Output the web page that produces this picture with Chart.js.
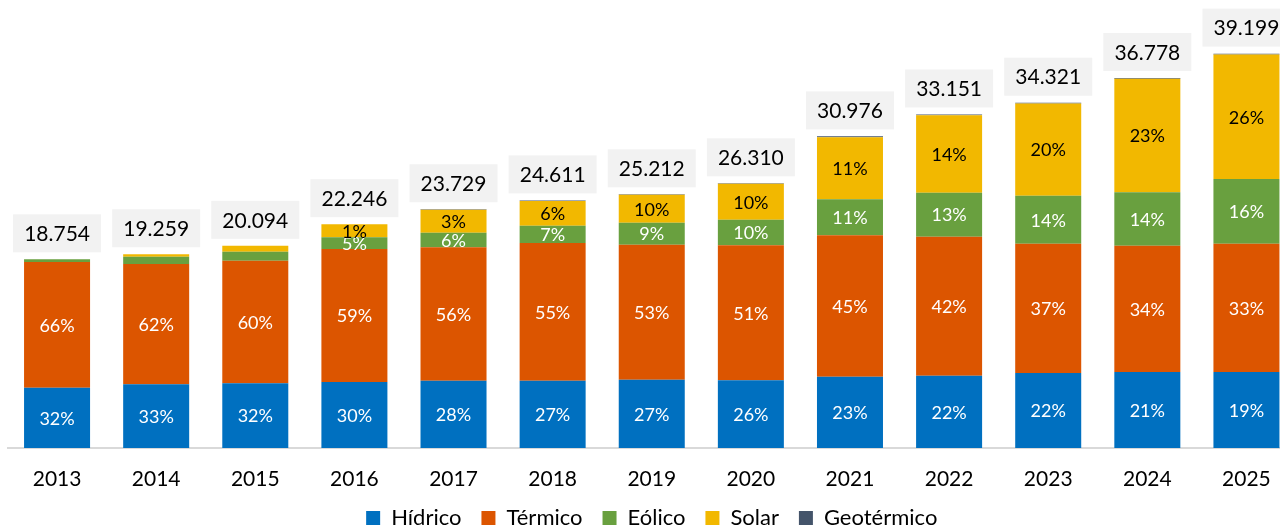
<!DOCTYPE html>
<html><head><meta charset="utf-8">
<script src="https://cdn.jsdelivr.net/npm/chart.js@4"></script>
<style>
html,body{margin:0;padding:0;overflow:hidden;background:#fff}
#wrap{position:absolute;left:0;top:0;width:1296px;height:539px}
</style>
</head><body>
<div id="wrap"><canvas id="c"></canvas></div>
<script>
const years = ['2013','2014','2015','2016','2017','2018','2019','2020','2021','2022','2023','2024','2025'];
const totals = [18754, 19259, 20094, 22246, 23729, 24611, 25212, 26310, 30976, 33151, 34321, 36778, 39199];

const hidrico    = [5990, 6340, 6435, 6561, 6690, 6690, 6790, 6730, 7088, 7187, 7455, 7555, 7555];
const termico    = [12500, 11955, 12187, 13221, 13260, 13688, 13420, 13420, 14056, 13817, 12853, 12555, 12754];
const eolico     = [264, 725, 895, 1163, 1451, 1720, 2187, 2545, 3579, 4374, 4771, 5308, 6432];
const solar      = [0, 239, 577, 1301, 2280, 2465, 2767, 3567, 6172, 7692, 9161, 11279, 12377];
const geotermico = [0, 0, 0, 0, 48, 48, 48, 48, 81, 81, 81, 81, 81];

const pctHidrico    = [32, 33, 32, 30, 28, 27, 27, 26, 23, 22, 22, 21, 19];
const pctTermico    = [66, 62, 60, 59, 56, 55, 53, 51, 45, 42, 37, 34, 33];
const pctEolico     = [null, null, null, 5, 6, 7, 9, 10, 11, 13, 14, 14, 16];
const pctSolar      = [null, null, null, 1, 3, 6, 10, 10, 11, 14, 20, 23, 26];
const pctGeotermico = [null, null, null, null, null, null, null, null, null, null, null, null, null];

const seriesNames = ['Hídrico', 'Térmico', 'Eólico', 'Solar', 'Geotérmico'];
const seriesColors = ['#0070C0', '#DC5500', '#69A03F', '#F2B800', '#44546A'];
const labelColors = ['#FFFFFF', '#FFFFFF', '#FFFFFF', '#000000', '#FFFFFF'];

const seriesValues = [hidrico, termico, eolico, solar, geotermico];
const seriesPct = [pctHidrico, pctTermico, pctEolico, pctSolar, pctGeotermico];

function fmt(n){ return String(n).replace(/\B(?=(\d{3})+(?!\d))/g, '.'); }

const labelPlugin = {
  id: 'segLabels',
  afterDatasetsDraw(chart){
    const ctx = chart.ctx;
    ctx.save();
    ctx.textAlign = 'center';
    ctx.textBaseline = 'middle';
    ctx.font = '18px Lato';
    chart.data.datasets.forEach((ds, di) => {
      const meta = chart.getDatasetMeta(di);
      const labs = seriesPct[di];
      meta.data.forEach((bar, i) => {
        const v = labs[i];
        if (v == null) return;
        const p = bar.getProps(['x','y','base'], true);
        ctx.fillStyle = labelColors[di];
        ctx.fillText(v + '%', p.x, (p.y + p.base) / 2 + 1);
      });
    });
    const xs = chart.scales.x, ys = chart.scales.y;
    const bw = 88, bh = 38;
    ctx.font = '21px Lato';
    totals.forEach((t, i) => {
      const x = xs.getPixelForValue(i);
      const top = ys.getPixelForValue(t);
      ctx.fillStyle = '#F2F2F2';
      ctx.fillRect(x - bw/2, top - 7 - bh, bw, bh);
      ctx.fillStyle = '#000000';
      ctx.fillText(fmt(t), x, top - 7 - bh/2 + 1);
    });
    ctx.restore();
  }
};

new Chart(document.getElementById('c'), {
  type: 'bar',
  data: {
    labels: years,
    datasets: seriesNames.map((n, i) => ({
      label: n,
      data: seriesValues[i],
      backgroundColor: seriesColors[i],
      borderWidth: 0,
      barPercentage: 0.666,
      categoryPercentage: 1.0
    }))
  },
  options: {
    responsive: true,
    maintainAspectRatio: false,
    animation: false,
    layout: { padding: { left: 7.5, right: 0, top: 0, bottom: 0 } },
    plugins: {
      legend: {
        position: 'bottom',
        labels: {
          font: { family: 'Lato', size: 22 },
          color: '#000000',
          boxWidth: 14,
          boxHeight: 14,
          padding: 20
        }
      },
      tooltip: { enabled: false }
    },
    scales: {
      x: {
        stacked: true,
        offset: true,
        grid: { display: false, drawTicks: false },
        border: { display: true, color: '#D9D9D9', width: 2 },
        ticks: { font: { family: 'Lato', size: 21 }, color: '#000000', padding: 19, maxRotation: 0 },
        afterFit: s => { s.height = 39; }
      },
      y: {
        stacked: true,
        display: false,
        min: 0,
        max: 44530
      }
    }
  },
  plugins: [labelPlugin]
});
</script>
</body></html>
